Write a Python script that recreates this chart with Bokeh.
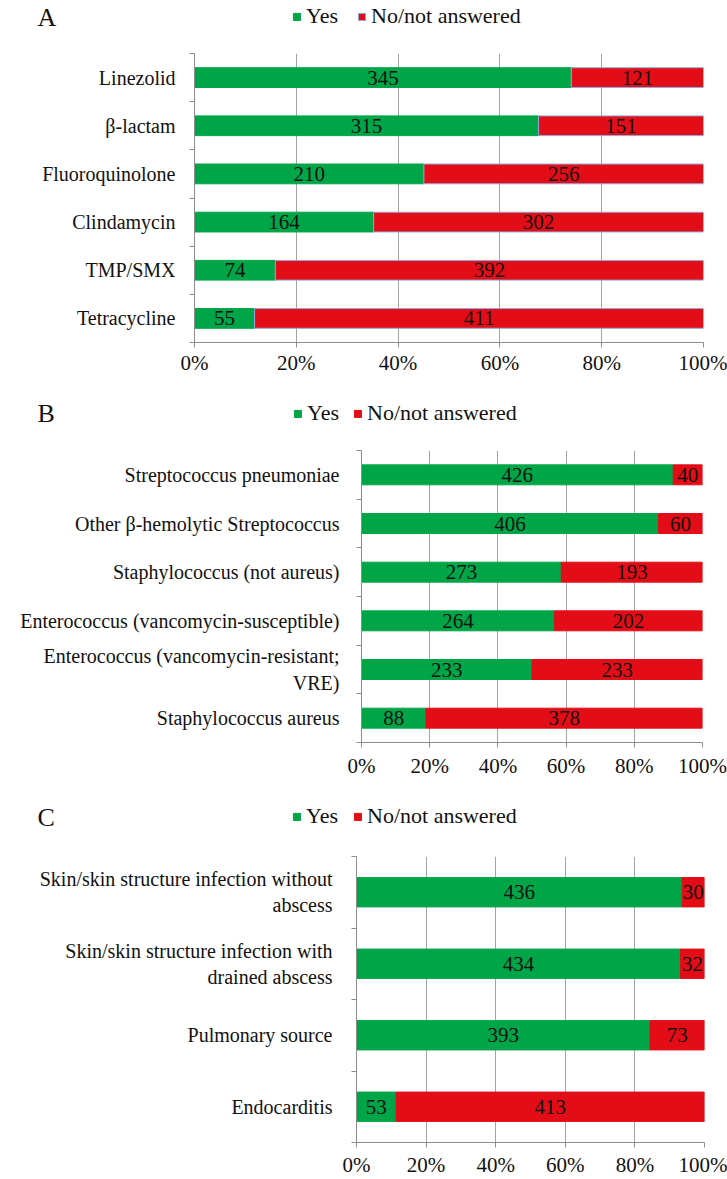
from bokeh.plotting import figure
from bokeh.layouts import column
from bokeh.models import FixedTicker, NumeralTickFormatter, Range1d, Label, Legend, LegendItem, ColumnDataSource
from bokeh.core.properties import value
from bokeh.embed import file_html
from bokeh.resources import INLINE

# ---------------- data ----------------
a_categories = ["Linezolid", "β-lactam", "Fluoroquinolone", "Clindamycin", "TMP/SMX", "Tetracycline"]
a_yes = [345, 315, 210, 164, 74, 55]
a_no = [121, 151, 256, 302, 392, 411]

b_categories = ["Streptococcus pneumoniae", "Other β-hemolytic Streptococcus",
                "Staphylococcus (not aureus)", "Enterococcus (vancomycin-susceptible)",
                "Enterococcus (vancomycin-resistant;\nVRE)", "Staphylococcus aureus"]
b_yes = [426, 406, 273, 264, 233, 88]
b_no = [40, 60, 193, 202, 233, 378]

c_categories = ["Skin/skin structure infection without\nabscess",
                "Skin/skin structure infection with\ndrained abscess",
                "Pulmonary source", "Endocarditis"]
c_yes = [436, 434, 393, 53]
c_no = [30, 32, 73, 413]

x_ticks = [0, 0.2, 0.4, 0.6, 0.8, 1.0]
legend_labels = ["Yes", "No/not answered"]
panel_letters = ["A", "B", "C"]

GREEN = "#00A548"
RED = "#E30D17"
OUTLINE = "#8FAADC"
GRID = "#A3A3A3"
AXIS = "#8C8C8C"
INK = "#111111"
FONT = "'Liberation Serif'"
W = 727


def make_header(letter, height, letter_cy, legend_x, legend_cy, spacing, red_outline):
    h = figure(width=W, height=height, output_backend="svg", toolbar_location=None,
               x_axis_type=None, y_axis_type=None, x_range=Range1d(0, 1), y_range=Range1d(0, 1),
               min_border_left=0, min_border_right=0, min_border_top=0, min_border_bottom=0)
    h.frame_align = False
    h.outline_line_color = None
    h.background_fill_color = "white"
    h.border_fill_color = "white"
    # legend proxies: zero-width bars lying outside the visible range
    proxy = ColumnDataSource(dict(y=[-5.0], left=[0.0], right=[0.0]))
    r_yes = h.hbar(y="y", left="left", right="right", height=0.5, source=proxy,
                   fill_color=GREEN, line_color=GREEN)
    r_no = h.hbar(y="y", left="left", right="right", height=0.5, source=proxy,
                  fill_color=RED, line_color=(OUTLINE if red_outline else RED), line_width=1)
    leg_h = 24
    legend = Legend(items=[LegendItem(label=legend_labels[0], renderers=[r_yes], index=0),
                           LegendItem(label=legend_labels[1], renderers=[r_no], index=0)],
                    location=(legend_x, height - legend_cy - leg_h // 2), orientation="horizontal",
                    border_line_color=None, background_fill_alpha=0, padding=0, margin=0,
                    spacing=spacing, label_standoff=5, glyph_width=9, glyph_height=9,
                    label_text_font=FONT, label_text_font_size="22px", label_text_color=INK,
                    label_height=leg_h)
    h.add_layout(legend)
    h.add_layout(Label(x=37, y=height - letter_cy, x_units="screen", y_units="screen",
                       text=letter, text_font=FONT, text_font_size="26px",
                       text_baseline="middle", text_color=INK))
    return h


def make_panel(cats, yes, no, height, bl, br, bt, bb, standoff, xstand, red_outline):
    n = len(cats)
    p = figure(width=W, height=height, output_backend="svg", toolbar_location=None,
               x_range=Range1d(0, 1), y_range=Range1d(-0.5, n - 0.5),
               min_border_left=bl, min_border_right=br, min_border_top=bt, min_border_bottom=bb)
    p.frame_align = False
    p.outline_line_color = None
    p.background_fill_color = "white"
    p.border_fill_color = "white"

    ys = [n - 1 - i for i in range(n)]
    frac = [y / (y + q) for y, q in zip(yes, no)]
    src = ColumnDataSource(dict(
        y=ys, frac=frac, one=[1.0] * n, zero=[0.0] * n,
        yes_mid=[f / 2 for f in frac], no_mid=[(f + 1) / 2 for f in frac],
        yes_txt=[str(v) for v in yes], no_txt=[str(v) for v in no]))

    p.hbar(y="y", left="zero", right="frac", height=0.41, source=src,
           fill_color=GREEN, line_color=GREEN, line_width=1)
    p.hbar(y="y", left="frac", right="one", height=0.41, source=src,
           fill_color=RED, line_color=(OUTLINE if red_outline else RED), line_width=1)

    for col_x, col_t in (("yes_mid", "yes_txt"), ("no_mid", "no_txt")):
        p.text(x=col_x, y="y", text=col_t, source=src, text_align="center",
               text_baseline="middle", text_font=value(FONT), text_font_size="21px",
               text_color=INK)

    # x axis
    p.xaxis.ticker = FixedTicker(ticks=x_ticks)
    p.xaxis.formatter = NumeralTickFormatter(format="0%")
    p.xaxis.axis_line_color = AXIS
    p.xaxis.major_tick_line_color = AXIS
    p.xaxis.major_tick_out = 5
    p.xaxis.major_tick_in = 0
    p.xaxis.minor_tick_line_color = None
    p.xaxis.major_label_text_font = FONT
    p.xaxis.major_label_text_font_size = "21px"
    p.xaxis.major_label_text_color = INK
    p.xaxis.major_label_standoff = xstand

    # y axis: labels at category centres, small ticks at category boundaries
    p.yaxis.ticker = FixedTicker(ticks=ys, minor_ticks=[k - 0.5 for k in range(n + 1)])
    p.yaxis.major_label_overrides = {y: c for y, c in zip(ys, cats)}
    p.yaxis.axis_line_color = AXIS
    p.yaxis.major_tick_line_color = None
    p.yaxis.major_tick_out = 0
    p.yaxis.major_tick_in = 0
    p.yaxis.minor_tick_line_color = AXIS
    p.yaxis.minor_tick_out = 5
    p.yaxis.minor_tick_in = 0
    p.yaxis.major_label_text_font = FONT
    p.yaxis.major_label_text_font_size = "20px"
    p.yaxis.major_label_text_color = INK
    p.yaxis.major_label_standoff = standoff

    p.xgrid.grid_line_color = GRID
    p.xgrid.grid_line_width = 1
    p.ygrid.grid_line_color = None
    return p


ha = make_header(panel_letters[0], 40, 17, 292, 17, 19, True)
pa = make_panel(a_categories, a_yes, a_no, 350, 194, 24, 13, 48, 14, 3, True)
hb = make_header(panel_letters[1], 46, 23, 293, 24, 14, False)
pb = make_panel(b_categories, b_yes, b_no, 359, 361, 25, 14, 53, 17, 6, False)
hc = make_header(panel_letters[2], 46, 22, 292, 22, 15, False)
pc = make_panel(c_categories, c_yes, c_no, 338, 356, 23, 15, 36, 19, 5, False)

layout = column(ha, pa, hb, pb, hc, pc, spacing=0)
open("out.html", "w").write(file_html(layout, INLINE))
